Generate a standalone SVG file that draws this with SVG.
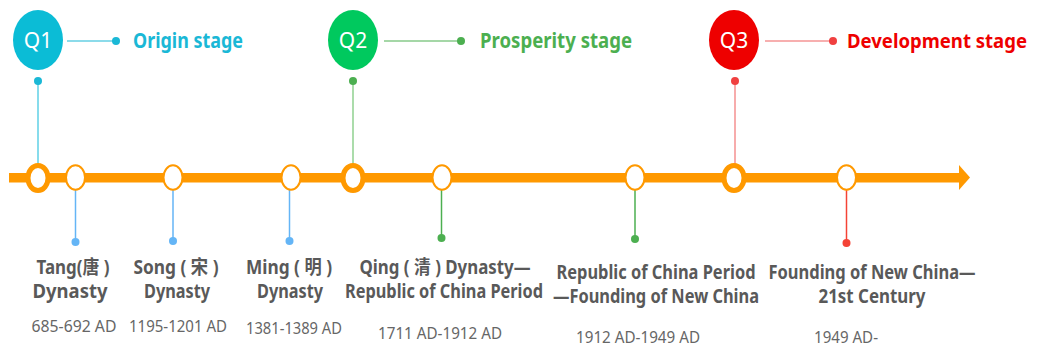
<svg xmlns="http://www.w3.org/2000/svg" width="1037" height="346" viewBox="0 0 1037 346">
<style>
.bubble-t{font-family:"Noto Sans","Liberation Sans",sans-serif;font-size:21px;fill:#fff;text-anchor:middle}
.stage{font-family:"Noto Sans","Liberation Sans",sans-serif;font-size:20.5px;font-weight:bold}
.lbl{font-family:"Noto Sans","Noto Sans CJK SC",sans-serif;font-size:19px;font-weight:bold;fill:#595959;text-anchor:middle}
.date{font-family:"Noto Sans","Liberation Sans",sans-serif;font-size:16px;fill:#666;text-anchor:middle}
.big{fill:#fff;stroke:#ff9900;stroke-width:5}
.small{fill:#fff;stroke:#ff9900;stroke-width:2}
</style>
<g id="timeline">
<rect x="9" y="173" width="951" height="9.5" fill="#ff9900"/>
<polygon points="959,165 970,177.5 959,190" fill="#ff9900"/>
</g>
<g id="connectors">
<line x1="67" y1="41" x2="116" y2="41" stroke="#1ab8d6" stroke-width="1.2"/>
<circle cx="116" cy="41" r="4" fill="#1ab8d6"/>
<line x1="38" y1="81" x2="38" y2="165" stroke="#5fd0e6" stroke-width="1.5"/>
<circle cx="38" cy="81" r="4" fill="#1ab8d6"/>
<line x1="384" y1="41" x2="460" y2="41" stroke="#4caf50" stroke-width="1.2"/>
<circle cx="461" cy="41" r="4" fill="#4caf50"/>
<line x1="353" y1="81" x2="353" y2="165" stroke="#8fd08f" stroke-width="1.5"/>
<circle cx="353" cy="81" r="4" fill="#4caf50"/>
<line x1="765" y1="41" x2="832" y2="41" stroke="#f06060" stroke-width="1.2"/>
<circle cx="833" cy="41" r="4" fill="#f04040"/>
<line x1="735" y1="81" x2="735" y2="165" stroke="#f49090" stroke-width="1.5"/>
<circle cx="735" cy="81" r="4" fill="#f04040"/>
<line x1="75.5" y1="190" x2="75.5" y2="241" stroke="#64b5f6" stroke-width="1.5"/>
<circle cx="75.5" cy="242" r="4" fill="#64b5f6"/>
<line x1="173" y1="190" x2="173" y2="240" stroke="#64b5f6" stroke-width="1.5"/>
<circle cx="173" cy="241" r="4" fill="#64b5f6"/>
<line x1="289.5" y1="190" x2="289.5" y2="240" stroke="#64b5f6" stroke-width="1.5"/>
<circle cx="289.5" cy="241" r="4" fill="#64b5f6"/>
<line x1="441.5" y1="190" x2="441.5" y2="237" stroke="#4caf50" stroke-width="1.5"/>
<circle cx="441.5" cy="238" r="4" fill="#4caf50"/>
<line x1="635" y1="190" x2="635" y2="238" stroke="#4caf50" stroke-width="1.5"/>
<circle cx="635" cy="239" r="4" fill="#4caf50"/>
<line x1="846.5" y1="190" x2="846.5" y2="242" stroke="#f44336" stroke-width="1.5"/>
<circle cx="846.5" cy="243" r="4" fill="#f44336"/>
</g>
<g id="q1">
<ellipse cx="38" cy="40" rx="25" ry="30" fill="#0bbcd6"/>
<text class="bubble-t" x="38" y="48">Q1</text>
<text class="stage" x="133" y="48" fill="#1ab8d6" textLength="110" lengthAdjust="spacingAndGlyphs">Origin stage</text>
<ellipse class="big" cx="38" cy="178" rx="10" ry="12.5"/>
</g>
<g id="q2">
<ellipse cx="353" cy="40" rx="25" ry="30" fill="#00c95e"/>
<text class="bubble-t" x="353" y="48">Q2</text>
<text class="stage" x="480" y="48" fill="#4caf50" textLength="152" lengthAdjust="spacingAndGlyphs">Prosperity stage</text>
<ellipse class="big" cx="353" cy="178" rx="10" ry="12.5"/>
</g>
<g id="q3">
<ellipse cx="734" cy="40" rx="25" ry="30" fill="#ee0000"/>
<text class="bubble-t" x="734" y="48">Q3</text>
<text class="stage" x="847" y="48" fill="#ee0000" style="font-size:19.5px" textLength="180" lengthAdjust="spacingAndGlyphs">Development stage</text>
<ellipse class="big" cx="734" cy="178" rx="10" ry="12.5"/>
</g>
<g id="tang">
<ellipse class="small" cx="75.5" cy="177.5" rx="9.5" ry="12.3"/>
<text class="lbl" x="73" y="274" textLength="73" lengthAdjust="spacingAndGlyphs">Tang(唐 )</text>
<text class="lbl" x="70" y="298" textLength="75" lengthAdjust="spacingAndGlyphs">Dynasty</text>
<text class="date" x="74" y="332" textLength="85" lengthAdjust="spacingAndGlyphs">685-692  AD</text>
</g>
<g id="song">
<ellipse class="small" cx="173" cy="177.5" rx="9.5" ry="12.3"/>
<text class="lbl" x="176" y="274" textLength="85" lengthAdjust="spacingAndGlyphs">Song ( 宋 )</text>
<text class="lbl" x="177" y="298" textLength="66" lengthAdjust="spacingAndGlyphs">Dynasty</text>
<text class="date" x="178" y="332" textLength="98" lengthAdjust="spacingAndGlyphs">1195-1201 AD</text>
</g>
<g id="ming">
<ellipse class="small" cx="291" cy="177.5" rx="9.5" ry="12.3"/>
<text class="lbl" x="289" y="274" textLength="86" lengthAdjust="spacingAndGlyphs">Ming ( 明 )</text>
<text class="lbl" x="290" y="298" textLength="66" lengthAdjust="spacingAndGlyphs">Dynasty</text>
<text class="date" x="294" y="334" textLength="96" lengthAdjust="spacingAndGlyphs">1381-1389 AD</text>
</g>
<g id="qing">
<ellipse class="small" cx="442" cy="177.5" rx="9.5" ry="12.3"/>
<text class="lbl" x="445" y="274" textLength="171" lengthAdjust="spacingAndGlyphs">Qing ( 清 ) Dynasty—</text>
<text class="lbl" x="444" y="298" textLength="198" lengthAdjust="spacingAndGlyphs">Republic of China Period</text>
<text class="date" x="440" y="339" textLength="124" lengthAdjust="spacingAndGlyphs">1711 AD-1912 AD</text>
</g>
<g id="republic">
<ellipse class="small" cx="635" cy="177.5" rx="9.5" ry="12.3"/>
<text class="lbl" x="656" y="279" textLength="199" lengthAdjust="spacingAndGlyphs">Republic of China Period</text>
<text class="lbl" x="656" y="303" textLength="206" lengthAdjust="spacingAndGlyphs">—Founding of New China</text>
<text class="date" x="638" y="343" textLength="124" lengthAdjust="spacingAndGlyphs">1912 AD-1949 AD</text>
</g>
<g id="founding">
<ellipse class="small" cx="846.5" cy="177.5" rx="9.5" ry="12.3"/>
<text class="lbl" x="872" y="279" textLength="207" lengthAdjust="spacingAndGlyphs">Founding of New China—</text>
<text class="lbl" x="872" y="303" textLength="107" lengthAdjust="spacingAndGlyphs">21st Century</text>
<text class="date" x="846" y="343" textLength="64" lengthAdjust="spacingAndGlyphs">1949 AD-</text>
</g>
</svg>
